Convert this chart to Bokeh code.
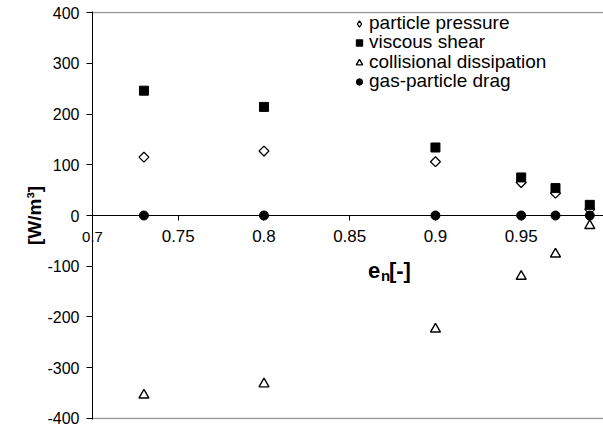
import numpy as np
from bokeh.plotting import figure
from bokeh.models import Range1d, FixedTicker, Legend, LegendItem, Label
from bokeh.embed import file_html
from bokeh.resources import INLINE

# ---- data ----
en = [0.73, 0.80, 0.90, 0.95, 0.97, 0.99]
particle_pressure = [115, 127, 106, 65, 44, 12]
viscous_shear = [246, 214, 134, 75, 54, 21]
collisional_dissipation = [-354, -332, -224, -120, -76, -20]
gas_particle_drag = [0, 0, 0, 0, 0, 0]

series_names = ["particle pressure", "viscous shear",
                "collisional dissipation", "gas-particle drag"]

x_ticks = [0.7, 0.75, 0.8, 0.85, 0.9, 0.95]
x_tick_labels = ["0.7", "0.75", "0.8", "0.85", "0.9", "0.95"]
y_ticks = [-400, -300, -200, -100, 0, 100, 200, 300, 400]
y_tick_labels = ["-400", "-300", "-200", "-100", "0", "100", "200", "300", "400"]

FONT = "Liberation Sans"

p = figure(width=603, height=430, output_backend="svg", toolbar_location=None,
           x_range=Range1d(0.7, 0.998), y_range=Range1d(-402, 402),
           min_border_left=92, min_border_right=0,
           min_border_top=11, min_border_bottom=11)
p.outline_line_color = None
p.background_fill_color = "white"
p.border_fill_color = "white"

# grid: only the frame lines at top and bottom
p.xgrid.visible = False
p.ygrid.ticker = FixedTicker(ticks=[y_ticks[0], y_ticks[-1]])
p.ygrid.grid_line_color = "#9a9a9a"
p.ygrid.grid_line_width = 1.5

# x axis crossing at y = 0
xa = p.xaxis[0]
xa.fixed_location = 0
xa.ticker = FixedTicker(ticks=x_ticks)
xa.major_label_overrides = {t: s for t, s in zip(x_ticks, x_tick_labels)}
xa.major_label_overrides[x_ticks[0]] = ""   # drawn separately, outside the frame clip
xa.major_tick_out = 5
xa.major_tick_in = 0
xa.minor_tick_line_color = None
xa.axis_line_color = "black"
xa.major_tick_line_color = "black"
xa.major_label_text_font = FONT
xa.major_label_text_font_size = "17px"
xa.major_label_text_color = "black"
xa.major_label_standoff = 9

ya = p.yaxis[0]
ya.ticker = FixedTicker(ticks=y_ticks)
ya.major_label_overrides = {t: s for t, s in zip(y_ticks, y_tick_labels)}
ya.major_tick_out = 6
ya.major_tick_in = 0
ya.minor_tick_line_color = None
ya.axis_line_color = "black"
ya.major_tick_line_color = "black"
ya.major_label_text_font = FONT
ya.major_label_text_font_size = "16px"
ya.major_label_text_color = "black"
ya.major_label_standoff = 7
ya.axis_label = "[W/m³]"
ya.axis_label_text_font = FONT
ya.axis_label_text_font_size = "19px"
ya.axis_label_text_font_style = "bold"
ya.axis_label_text_color = "black"
ya.axis_label_standoff = -1

# ---- series ----
r_pp = p.scatter(en, particle_pressure, marker="square", angle=np.pi / 4, size=7,
                 fill_color="white", line_color="black", line_width=1.3)
r_vs = p.scatter(en, viscous_shear, marker="square", size=9,
                 fill_color="black", line_color="black")
r_cd = p.scatter(en, collisional_dissipation, marker="triangle", size=10,
                 fill_color="white", line_color="black", line_width=1.4)
r_gd = p.scatter(en, gas_particle_drag, marker="circle", size=9,
                 fill_color="black", line_color="black")

# legend swatch for the diamond series (legend swatches ignore marker angle);
# its single point is NaN, so nothing is drawn in the plot area
r_pp_key = p.scatter(x=[np.nan], y=[np.nan], marker="diamond", size=7,
                     fill_color="white", line_color="black", line_width=1.3)

# legend: one single-row legend per series so the rows can sit close together
ROW_STEP = 19.4
for i, (name, r) in enumerate(zip(series_names, [r_pp_key, r_vs, r_cd, r_gd])):
    p.add_layout(Legend(items=[LegendItem(label=name, renderers=[r])],
                        location=(259, int(round(385 - ROW_STEP * i))),
                        border_line_color=None, background_fill_alpha=0,
                        padding=0, margin=0, spacing=0,
                        glyph_width=16, glyph_height=19, label_height=19,
                        label_standoff=2,
                        label_text_font=FONT, label_text_font_size="19px",
                        label_text_color="black"))

# first x tick label, placed in the left side panel so it is not clipped
p.add_layout(Label(x=x_ticks[0], y=0, y_offset=-21, text=x_tick_labels[0],
                   text_font=FONT, text_font_size="15px", text_color="black",
                   text_baseline="middle", text_align="center"), "left")

# ---- x axis title ----
p.add_layout(Label(x=0.8606, y=-109, text="e", text_font=FONT, text_font_size="22px",
                   text_font_style="bold", text_color="black",
                   text_baseline="middle", text_align="left"))
p.add_layout(Label(x=0.8606, y=-109, x_offset=13, y_offset=-5, text="n", text_font=FONT,
                   text_font_size="15px", text_font_style="bold", text_color="black",
                   text_baseline="middle", text_align="left"))
p.add_layout(Label(x=0.8606, y=-109, x_offset=21, text=" [-]", text_font=FONT,
                   text_font_size="22px", text_font_style="bold", text_color="black",
                   text_baseline="middle", text_align="left"))

open("out.html", "w").write(file_html(p, INLINE))
